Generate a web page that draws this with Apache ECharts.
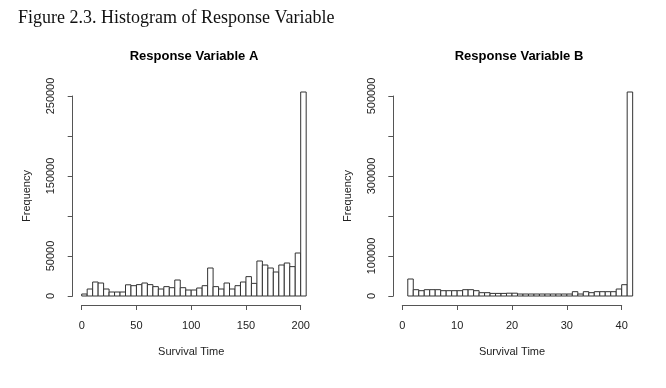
<!DOCTYPE html>
<html>
<head>
<meta charset="utf-8">
<script src="https://cdn.jsdelivr.net/npm/echarts@6/dist/echarts.min.js"></script>
<style>
html,body{margin:0;padding:0;background:#fff;}
#chart{width:666px;height:388px;}
</style>
</head>
<body>
<div id="chart"></div>
<script>
// ---- Data ----
const figureTitle = 'Figure 2.3. Histogram of Response Variable';
const panelTitles = ['Response Variable A', 'Response Variable B'];
const xAxisTitle = 'Survival Time';
const yAxisTitle = 'Frequency';

// Panel A: bins of width 5 (left edges)
const binStartA = [0,5,10,15,20,25,30,35,40,45,50,55,60,65,70,75,80,85,90,95,100,105,110,115,120,125,130,135,140,145,150,155,160,165,170,175,180,185,190,195,200];
const binWidthA = 5;
const countsA = [2500,8750,17500,16250,8750,5000,5000,5000,14000,12900,14200,16250,14200,11700,8750,11700,10400,20000,10400,7500,7500,10000,12900,35000,11700,8750,16250,8750,12900,17500,24200,15800,43750,38750,35000,30000,38750,41250,36700,53750,255000];
const xTicksA = [0,50,100,150,200];
const yTicksA = [0,50000,100000,150000,200000,250000];
const yLabelsA = [0,50000,150000,250000];

// Panel B: bins of width 1 (left edges)
const binStartB = [0,1,2,3,4,5,6,7,8,9,10,11,12,13,14,15,16,17,18,19,20,21,22,23,24,25,26,27,28,29,30,31,32,33,34,35,36,37,38,39,40,41];
const binWidthB = 1;
const countsB = [0,42500,15800,13300,15800,15800,15800,13300,13300,13300,13300,15800,15800,13300,8300,8300,6500,6500,6500,7000,7000,5000,5000,5000,5000,5000,5000,5000,5000,5000,5000,10800,5000,10800,8300,10800,10800,10800,10800,17500,28300,510000];
const xTicksB = [0,10,20,30,40];
const yTicksB = [0,100000,200000,300000,400000,500000];
const yLabelsB = [0,100000,300000,500000];

// ---- Build ----
const sans = 'Liberation Sans, Arial, sans-serif';
const axisColor = '#555';
const textColor = '#222';

function histData(starts, width, counts) {
  return starts.map((s, i) => [s, s + width, counts[i]]);
}

function renderBar(params, api) {
  const x0 = api.value(0), x1 = api.value(1), v = api.value(2);
  if (!v) return null;
  const p0 = api.coord([x0, 0]);
  const p1 = api.coord([x1, v]);
  return {
    type: 'rect',
    shape: { x: p0[0], y: p1[1], width: p1[0] - p0[0], height: p0[1] - p1[1] },
    style: { fill: '#fff', stroke: '#333', lineWidth: 1 }
  };
}

function plain(v) { return String(v); }

function xAxisFor(gi, ticks) {
  return {
    type: 'value', gridIndex: gi,
    min: ticks[0], max: ticks[ticks.length - 1], interval: ticks[1] - ticks[0],
    offset: 9,
    axisLine: { show: true, onZero: false, lineStyle: { color: axisColor, width: 1 } },
    axisTick: { show: true, length: 5, lineStyle: { color: axisColor } },
    axisLabel: { show: true, margin: 15, fontSize: 11, color: textColor, fontFamily: sans, formatter: plain },
    splitLine: { show: false },
    name: xAxisTitle, nameLocation: 'middle', nameGap: 41,
    nameTextStyle: { fontSize: 11, color: textColor, fontFamily: sans }
  };
}

function yAxisFor(gi, ticks, labels) {
  return {
    type: 'value', gridIndex: gi,
    min: ticks[0], max: ticks[ticks.length - 1], interval: ticks[1] - ticks[0],
    offset: 9,
    axisLine: { show: true, onZero: false, lineStyle: { color: axisColor, width: 1 } },
    axisTick: { show: true, length: 5, lineStyle: { color: axisColor }, customValues: ticks },
    axisLabel: { show: true, rotate: 90, margin: 16, fontSize: 11, color: textColor, fontFamily: sans, customValues: labels, formatter: plain },
    splitLine: { show: false },
    name: yAxisTitle, nameLocation: 'middle', nameGap: 40, nameRotate: 90,
    nameTextStyle: { fontSize: 11, color: textColor, fontFamily: sans }
  };
}

const option = {
  backgroundColor: '#fff',
  animation: false,
  title: [
    { text: figureTitle, left: 18, top: 9, padding: 0,
      textStyle: { fontFamily: 'Liberation Serif, serif', fontSize: 18, fontWeight: 'normal', color: '#111' } },
    { text: panelTitles[0], left: 194, top: 50, padding: 0, textAlign: 'center',
      textStyle: { fontFamily: sans, fontSize: 13, fontWeight: 'bold', color: '#000' } },
    { text: panelTitles[1], left: 519, top: 50, padding: 0, textAlign: 'center',
      textStyle: { fontFamily: sans, fontSize: 13, fontWeight: 'bold', color: '#000' } }
  ],
  grid: [
    { left: 81.7, top: 96, width: 219, height: 200 },
    { left: 402.3, top: 96, width: 219.4, height: 200 }
  ],
  xAxis: [xAxisFor(0, xTicksA), xAxisFor(1, xTicksB)],
  yAxis: [yAxisFor(0, yTicksA, yLabelsA), yAxisFor(1, yTicksB, yLabelsB)],
  series: [
    { type: 'custom', xAxisIndex: 0, yAxisIndex: 0, clip: false,
      renderItem: renderBar, encode: { x: [0, 1], y: 2 },
      data: histData(binStartA, binWidthA, countsA) },
    { type: 'custom', xAxisIndex: 1, yAxisIndex: 1, clip: false,
      renderItem: renderBar, encode: { x: [0, 1], y: 2 },
      data: histData(binStartB, binWidthB, countsB) }
  ]
};

const chart = echarts.init(document.getElementById('chart'), null, { renderer: 'canvas' });
chart.setOption(option);
</script>
</body>
</html>
